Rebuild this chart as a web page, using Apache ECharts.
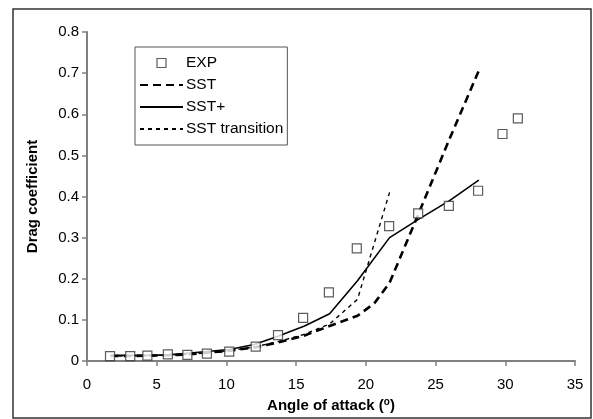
<!DOCTYPE html>
<html><head><meta charset="utf-8">
<script src="https://cdn.jsdelivr.net/npm/echarts@6/dist/echarts.min.js"></script>
<style>html,body{margin:0;padding:0;background:#fff}#c{width:593px;height:419px}</style>
</head><body><div id="c"></div>
<script>
const xTicks = [0,5,10,15,20,25,30,35];
const yTicks = [0,0.1,0.2,0.3,0.4,0.5,0.6,0.7,0.8];
const expX = [1.65,3.1,4.33,5.8,7.2,8.6,10.2,12.1,13.7,15.5,17.35,19.35,21.67,23.75,25.95,28.05,29.8,30.9];
const expY = [0.012,0.012,0.013,0.016,0.015,0.018,0.023,0.035,0.063,0.105,0.167,0.274,0.328,0.359,0.377,0.414,0.552,0.59];
const sstX = [1.7,3.1,4.3,5.8,7.2,8.6,10.2,12.0,13.7,15.6,17.4,19.4,20.6,21.7,23.8,26.0,28.1];
const sstY = [0.012,0.012,0.013,0.014,0.016,0.02,0.025,0.033,0.045,0.062,0.085,0.11,0.14,0.19,0.36,0.54,0.706];
const sstPlusX = [1.7,3.1,4.3,5.8,7.2,8.6,10.2,12.0,13.7,15.6,17.4,19.4,21.7,23.8,26.0,28.1];
const sstPlusY = [0.014,0.014,0.014,0.015,0.019,0.023,0.028,0.04,0.06,0.085,0.115,0.195,0.30,0.345,0.39,0.44];
const sstTrX = [1.7,3.1,4.3,5.8,7.2,8.6,10.2,12.0,13.7,15.6,17.4,19.4,21.7];
const sstTrY = [0.012,0.012,0.013,0.014,0.016,0.02,0.025,0.034,0.047,0.065,0.09,0.15,0.41];
const legendNames = ['EXP','SST','SST+','SST transition'];
const pair = (xs, ys) => xs.map((x,i)=>[x,ys[i]]);
const ch = echarts.init(document.getElementById('c'), null, {renderer:'canvas'});
const F = 'Liberation Sans, Arial, sans-serif';
const none = 'rgba(0,0,0,0)';
ch.setOption({
  animation:false,
  grid:{left:87,right:18,top:32,bottom:58,outerBoundsMode:'none',containLabel:false},
  graphic:[{type:'rect',shape:{x:13,y:9,width:578,height:409},style:{fill:'none',stroke:'#333',lineWidth:1.5},z:-1}],
  legend:{
    orient:'vertical',left:135,top:47,
    padding:[7,4,7,4],itemGap:4,itemWidth:43,itemHeight:9,
    borderColor:'#555',borderWidth:1,
    textStyle:{fontFamily:F,fontSize:15.5,color:'#000',padding:[0,0,0,-2],lineHeight:18},
    data:[
      {name:legendNames[0],icon:'path://M0,0L10,0L10,10L0,10Z',itemStyle:{color:'#fff',borderColor:'#333',borderWidth:1.2}},
      legendNames[1],legendNames[2],legendNames[3]
    ]
  },
  xAxis:{type:'value',min:0,max:35,interval:5,
    axisLine:{lineStyle:{color:'#808080',width:2}},
    axisTick:{show:true,length:5,lineStyle:{color:'#808080',width:1.5}},
    splitLine:{show:false},
    axisLabel:{fontFamily:F,fontSize:15,color:'#000',margin:16},
    name:'{a|Angle of attack (}{s|o}{a|)}',nameLocation:'middle',nameGap:34,
    nameTextStyle:{rich:{a:{fontFamily:F,fontSize:15,fontWeight:'bold',color:'#000'},s:{fontFamily:F,fontSize:10,fontWeight:'bold',color:'#000',verticalAlign:'top',padding:[0,0,8,0]}}}
  },
  yAxis:{type:'value',min:0,max:0.8,interval:0.1,
    axisLine:{show:true,lineStyle:{color:'#808080',width:2}},
    axisTick:{show:true,length:5,lineStyle:{color:'#808080',width:1.5}},
    splitLine:{show:false},
    axisLabel:{fontFamily:F,fontSize:15,color:'#000',margin:8,formatter:v=>String(+v.toFixed(1))},
    name:'Drag coefficient',nameLocation:'middle',nameGap:47,nameRotate:90,
    nameTextStyle:{fontFamily:F,fontSize:15,fontWeight:'bold',color:'#000'}
  },
  series:[
    {name:'SST',type:'line',data:pair(sstX,sstY),showSymbol:false,symbol:'circle',
     lineStyle:{color:'#000',width:2.6,type:[8,5]},itemStyle:{color:none,borderColor:none}},
    {name:'SST+',type:'line',data:pair(sstPlusX,sstPlusY),showSymbol:false,symbol:'circle',
     lineStyle:{color:'#000',width:1.6,type:'solid'},itemStyle:{color:none,borderColor:none}},
    {name:'SST transition',type:'line',data:pair(sstTrX,sstTrY),showSymbol:false,symbol:'circle',
     lineStyle:{color:'#000',width:1.4,type:[4,4]},itemStyle:{color:none,borderColor:none}},
    {name:'EXP',type:'scatter',data:pair(expX,expY),symbol:'rect',symbolSize:9,z:5,
     itemStyle:{color:'#fff',borderColor:'#333',borderWidth:1.2}}
  ]
});
</script></body></html>
